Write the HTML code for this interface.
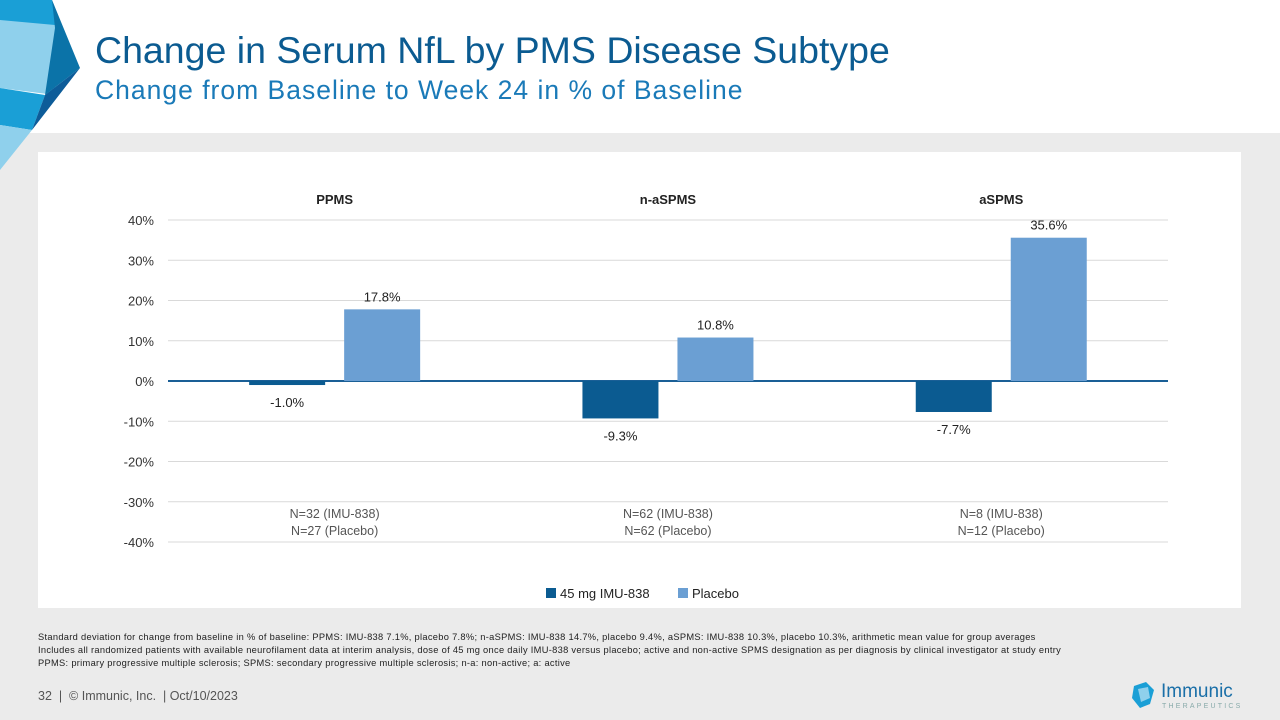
<!DOCTYPE html>
<html><head><meta charset="utf-8"><style>
body{margin:0;width:1280px;height:720px;position:relative;overflow:hidden;background:#fff;font-family:"Liberation Sans",sans-serif}
.abs{position:absolute}
</style></head><body>
<svg class="abs" style="left:0;top:0" width="90" height="170">
<polygon points="0,0 52,0 78,68 55,72 0,20" fill="#1a9fd6"/>
<polygon points="0,20 55,25 55,95 0,88" fill="#8fd0ec"/>
<polygon points="52,0 80,68 45,95 55,28" fill="#0b73a8"/>
<polygon points="0,88 45,95 32,130 0,125" fill="#1a9fd6"/>
<polygon points="45,95 80,68 32,130" fill="#0d5c99"/>
<polygon points="0,125 32,130 0,170" fill="#8fd0ec"/>
</svg>
<div class="abs" style="left:95px;top:29px;font-size:37.5px;color:#0b5b91">Change in Serum NfL by PMS Disease Subtype</div>
<div class="abs" style="left:95px;top:75px;font-size:26.5px;letter-spacing:1px;color:#1a7ab8">Change from Baseline to Week 24 in % of Baseline</div>
<div class="abs" style="left:0;top:133px;width:1280px;height:587px;background:#ebebeb;z-index:-1"></div>
<div class="abs" style="left:38px;top:152px;width:1203px;height:456px;background:#fff"></div>
<svg class="abs" id="chart" style="left:0;top:0" width="1280" height="620"></svg>
<div class="abs" style="left:38px;top:631px;font-size:9.3px;letter-spacing:0.3px;line-height:13px;color:#222;white-space:nowrap">Standard deviation for change from baseline in % of baseline: PPMS: IMU-838 7.1%, placebo 7.8%; n-aSPMS: IMU-838 14.7%, placebo 9.4%, aSPMS: IMU-838 10.3%, placebo 10.3%, arithmetic mean value for group averages<br>Includes all randomized patients with available neurofilament data at interim analysis, dose of 45 mg once daily IMU-838 versus placebo; active and non-active SPMS designation as per diagnosis by clinical investigator at study entry<br>PPMS: primary progressive multiple sclerosis; SPMS: secondary progressive multiple sclerosis; n-a: non-active; a: active</div>
<div class="abs" style="left:38px;top:689px;font-size:12.5px;color:#555">32 &nbsp;| &nbsp;© Immunic, Inc. &nbsp;| Oct/10/2023</div>
<svg class="abs" style="left:1130px;top:680px" width="28" height="32">
<polygon points="4,6 16,2 24,10 20,24 10,28 2,18" fill="#1a9fd6"/><polygon points="8,9 18,7 20,18 11,22" fill="#8fd0ec"/></svg>
<div class="abs" style="left:1161px;top:681px;font-size:19px;color:#1a6fa8">Immunic</div>
<div class="abs" style="left:1162px;top:703px;font-size:7px;letter-spacing:2.2px;color:#8aa">THERAPEUTICS</div>
<script>
const groups=["PPMS","n-aSPMS","aSPMS"];
const imu=[-1.0,-9.3,-7.7];
const placebo=[17.8,10.8,35.6];
const ticks=[40,30,20,10,0,-10,-20,-30,-40];
const nImu=["N=32 (IMU-838)","N=62 (IMU-838)","N=8 (IMU-838)"];
const nPla=["N=27 (Placebo)","N=62 (Placebo)","N=12 (Placebo)"];
const svg=document.getElementById('chart');
const NS="http://www.w3.org/2000/svg";
const y=v=>381-v*4.025;
const gx=i=>168+333.3*(i+0.5);
function mk(t,a,txt){const e=document.createElementNS(NS,t);for(const k in a)e.setAttribute(k,a[k]);if(txt!=null)e.textContent=txt;svg.appendChild(e);return e;}
ticks.forEach(t=>{
const l=mk('line',{x1:168,x2:1168,y1:y(t),y2:y(t),stroke:t===0?'#1a5f96':'#d9d9d9','stroke-width':t===0?2:1});

const tx=mk('text',{x:154,y:y(t)+5,'text-anchor':'end','font-size':13,fill:'#333'},t+'%');

});
groups.forEach((g,i)=>{
const c=gx(i);
const h=mk('text',{x:c,y:204,'text-anchor':'middle','font-size':13,'font-weight':'bold',fill:'#222'},g);

const v1=imu[i],v2=placebo[i];
const b1=mk('rect',{x:c-85.5,y:Math.min(y(0),y(v1)),width:76,height:Math.abs(y(v1)-y(0)),fill:'#0b5b91'});

const b2=mk('rect',{x:c+9.5,y:Math.min(y(0),y(v2)),width:76,height:Math.abs(y(v2)-y(0)),fill:'#6b9fd3'});

const l1=mk('text',{x:c-47.5,y:v1<0?y(v1)+22:y(v1)-8,'text-anchor':'middle','font-size':13,fill:'#222'},v1.toFixed(1)+'%');

const l2=mk('text',{x:c+47.5,y:v2<0?y(v2)+22:y(v2)-8,'text-anchor':'middle','font-size':13,fill:'#222'},v2.toFixed(1)+'%');

const n1=mk('text',{x:c,y:518,'text-anchor':'middle','font-size':12.5,fill:'#555'},nImu[i]);

const n2=mk('text',{x:c,y:535,'text-anchor':'middle','font-size':12.5,fill:'#555'},nPla[i]);

});
const lg1=mk('rect',{x:546,y:588,width:10,height:10,fill:'#0b5b91'});

const lt1=mk('text',{x:560,y:598,'font-size':13,fill:'#222'},'45 mg IMU-838');

const lg2=mk('rect',{x:678,y:588,width:10,height:10,fill:'#6b9fd3'});

const lt2=mk('text',{x:692,y:598,'font-size':13,fill:'#222'},'Placebo');

</script>
</body></html>
